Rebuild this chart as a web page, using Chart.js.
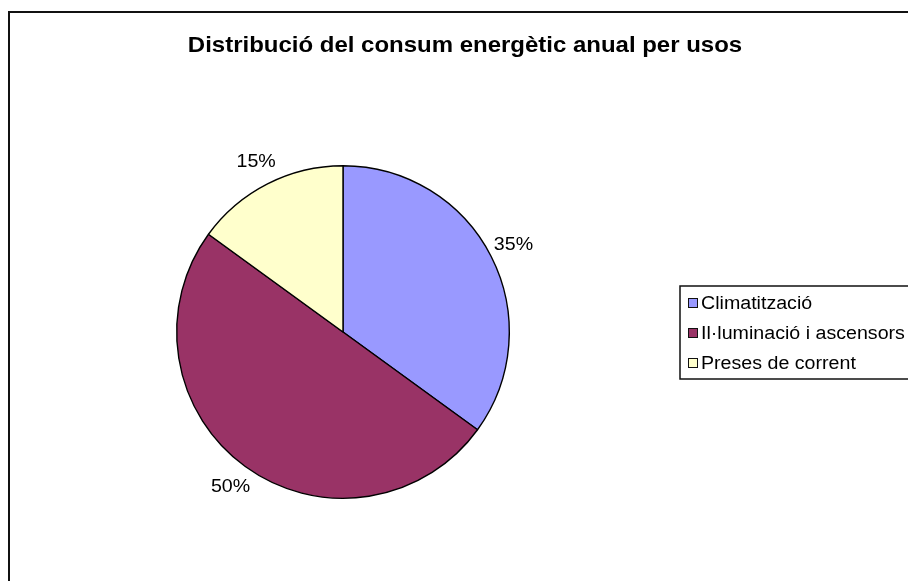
<!DOCTYPE html>
<html>
<head>
<meta charset="utf-8">
<title>Distribució del consum energètic anual per usos</title>
<script src="https://cdn.jsdelivr.net/npm/chart.js@4/dist/chart.umd.min.js"></script>
<style>
  html, body { margin: 0; padding: 0; background: #fff; }
  #wrap { width: 908px; height: 581px; position: relative; }
</style>
</head>
<body>
<div id="wrap"><canvas id="pieChart"></canvas></div>
<script>
// Data
const chartTitle = "Distribució del consum energètic anual per usos";
const usos = ["Climatització", "Il·luminació i ascensors", "Preses de corrent"];
const percentatges = [35, 50, 15];
const colors = ["#9999FF", "#993366", "#FFFFCC"];

const FONT = "Arial, 'Liberation Sans', sans-serif";
const TEXT_STRETCH = 1.09; // slightly wide glyphs

// draw text with a little horizontal stretch
function wideText(ctx, text, x, y) {
  ctx.save();
  ctx.translate(x, y);
  ctx.scale(TEXT_STRETCH, 1);
  ctx.fillText(text, 0, 0);
  ctx.restore();
}

// Outer frame + title
const framePlugin = {
  id: "frame",
  beforeDraw(chart) {
    const ctx = chart.ctx;
    ctx.save();
    ctx.fillStyle = "#fff";
    ctx.fillRect(0, 0, chart.width, chart.height);
    ctx.strokeStyle = "#111";
    ctx.lineWidth = 2;
    ctx.strokeRect(9, 12, chart.width + 20, chart.height + 20);
    ctx.fillStyle = "#000";
    ctx.font = "bold 22px " + FONT;
    ctx.textAlign = "center";
    ctx.textBaseline = "middle";
    wideText(ctx, chartTitle, 465, 46);
    ctx.restore();
  }
};

// Percentage labels outside each slice
const outsideLabels = {
  id: "outsideLabels",
  afterDatasetsDraw(chart) {
    const ctx = chart.ctx;
    const meta = chart.getDatasetMeta(0);
    const total = percentatges.reduce((a, b) => a + b, 0);
    ctx.save();
    ctx.fillStyle = "#000";
    ctx.font = "18px " + FONT;
    ctx.textAlign = "center";
    ctx.textBaseline = "middle";
    meta.data.forEach((arc, i) => {
      const p = arc.getProps(["x", "y", "startAngle", "endAngle", "outerRadius"], true);
      const mid = (p.startAngle + p.endAngle) / 2;
      const d = p.outerRadius + 25;
      const pct = Math.round(percentatges[i] / total * 100) + "%";
      wideText(ctx, pct, p.x + Math.cos(mid) * d, p.y + Math.sin(mid) * d);
    });
    ctx.restore();
  }
};

// Boxed legend on the right
const boxLegend = {
  id: "boxLegend",
  afterDraw(chart) {
    const ctx = chart.ctx;
    const left = 680, top = 286, rowH = 30;
    ctx.save();
    ctx.strokeStyle = "#111";
    ctx.lineWidth = 1.5;
    ctx.strokeRect(left, top, 300, 93);
    ctx.font = "18px " + FONT;
    ctx.textBaseline = "middle";
    ctx.textAlign = "left";
    chart.data.labels.forEach((label, i) => {
      const cy = top + 17 + i * rowH;
      ctx.fillStyle = chart.data.datasets[0].backgroundColor[i];
      ctx.fillRect(688, cy - 4, 9, 9);
      ctx.lineWidth = 1;
      ctx.strokeStyle = "#111";
      ctx.strokeRect(688.5, cy - 4.5, 9, 9);
      ctx.fillStyle = "#000";
      wideText(ctx, label, 701, cy + 1);
    });
    ctx.restore();
  }
};

const pieChart = new Chart(document.getElementById("pieChart"), {
  type: "pie",
  data: {
    labels: usos,
    datasets: [{
      data: percentatges,
      backgroundColor: colors,
      borderColor: "#000",
      borderWidth: 1.4
    }]
  },
  options: {
    responsive: true,
    maintainAspectRatio: false,
    animation: false,
    layout: {
      padding: { left: 175, right: 397, top: 165, bottom: 82 }
    },
    plugins: {
      legend: { display: false },
      title: { display: false },
      tooltip: { enabled: false }
    }
  },
  plugins: [framePlugin, outsideLabels, boxLegend]
});
</script>
</body>
</html>
